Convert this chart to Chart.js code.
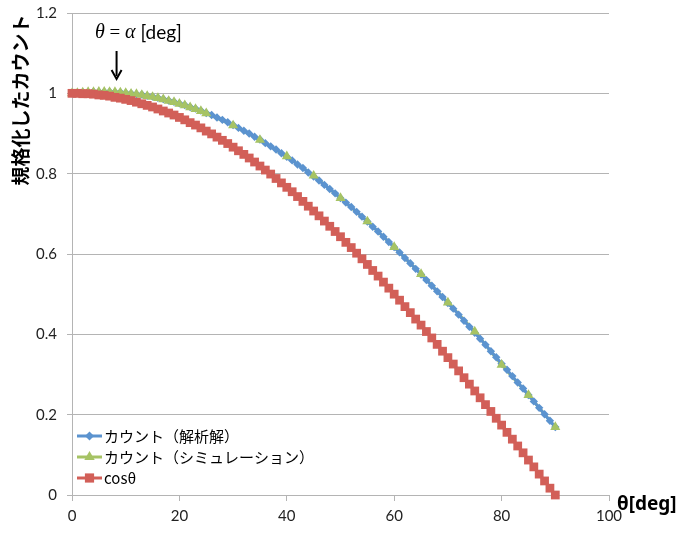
<!DOCTYPE html>
<html>
<head>
<meta charset="utf-8">
<script src="https://cdn.jsdelivr.net/npm/chart.js@4.4.1/dist/chart.umd.min.js"></script>
<style>
  html, body { margin: 0; padding: 0; background: #ffffff; }
  canvas { display: block; }
</style>
</head>
<body>
<canvas id="chart" width="684" height="535"></canvas>
<script>
// Incidence angle in degrees (1-degree steps)
const angles = [
  0, 1, 2, 3, 4, 5, 6, 7, 8, 9, 10, 11, 12, 13, 14, 15, 16, 17, 18, 19,
  20, 21, 22, 23, 24, 25, 26, 27, 28, 29, 30, 31, 32, 33, 34, 35, 36, 37, 38, 39,
  40, 41, 42, 43, 44, 45, 46, 47, 48, 49, 50, 51, 52, 53, 54, 55, 56, 57, 58, 59,
  60, 61, 62, 63, 64, 65, 66, 67, 68, 69, 70, 71, 72, 73, 74, 75, 76, 77, 78, 79,
  80, 81, 82, 83, 84, 85, 86, 87, 88, 89, 90
];

// Normalised count, analytic solution
const analytic = [
  1.000, 1.001, 1.003, 1.003, 1.004, 1.004, 1.004, 1.004, 1.003, 1.003,
  1.001, 1.000, 0.998, 0.997, 0.994, 0.992, 0.989, 0.986, 0.982, 0.979,
  0.975, 0.971, 0.966, 0.962, 0.957, 0.951, 0.946, 0.940, 0.934, 0.928,
  0.921, 0.914, 0.907, 0.900, 0.892, 0.885, 0.876, 0.868, 0.860, 0.851,
  0.842, 0.833, 0.823, 0.814, 0.803, 0.793, 0.783, 0.772, 0.762, 0.751,
  0.739, 0.728, 0.717, 0.705, 0.693, 0.681, 0.668, 0.656, 0.643, 0.630,
  0.617, 0.604, 0.590, 0.577, 0.563, 0.549, 0.535, 0.521, 0.507, 0.493,
  0.478, 0.464, 0.449, 0.434, 0.419, 0.404, 0.389, 0.374, 0.358, 0.343,
  0.327, 0.312, 0.296, 0.280, 0.265, 0.249, 0.233, 0.217, 0.201, 0.185,
  0.169
];

// Simulation: fine steps up to 25 deg, then every 5 deg
const simulationAngles = [
  0, 1, 2, 3, 4, 5, 6, 7, 8, 9, 10, 11, 12, 13, 14, 15, 16, 17, 18, 19,
  20, 21, 22, 23, 24, 25, 30, 35, 40, 45, 50, 55, 60, 65, 70, 75, 80, 85, 90
];
const simulation = [
  1.000, 1.001, 1.002, 1.003, 1.003, 1.004, 1.004, 1.003, 1.003, 1.002,
  1.001, 0.999, 0.998, 0.996, 0.993, 0.991, 0.988, 0.985, 0.981, 0.978,
  0.974, 0.970, 0.965, 0.961, 0.956, 0.950, 0.920, 0.884, 0.843, 0.795,
  0.739, 0.681, 0.617, 0.550, 0.479, 0.407, 0.324, 0.249, 0.169
];

// cos(theta) reference curve
const cosine = [
  1.000, 1.000, 0.999, 0.999, 0.998, 0.996, 0.995, 0.993, 0.990, 0.988,
  0.985, 0.982, 0.978, 0.974, 0.970, 0.966, 0.961, 0.956, 0.951, 0.946,
  0.940, 0.934, 0.927, 0.921, 0.914, 0.906, 0.899, 0.891, 0.883, 0.875,
  0.866, 0.857, 0.848, 0.839, 0.829, 0.819, 0.809, 0.799, 0.788, 0.777,
  0.766, 0.755, 0.743, 0.731, 0.719, 0.707, 0.695, 0.682, 0.669, 0.656,
  0.643, 0.629, 0.616, 0.602, 0.588, 0.574, 0.559, 0.545, 0.530, 0.515,
  0.500, 0.485, 0.469, 0.454, 0.438, 0.423, 0.407, 0.391, 0.375, 0.358,
  0.342, 0.326, 0.309, 0.292, 0.276, 0.259, 0.242, 0.225, 0.208, 0.191,
  0.174, 0.156, 0.139, 0.122, 0.105, 0.087, 0.070, 0.052, 0.035, 0.017,
  0.000
];

const seriesNames = ['カウント（解析解）', 'カウント（シミュレーション）', 'cosθ'];
const yTitle = '規格化したカウント';
const xTitle = 'θ[deg]';
const alphaAngle = 8.3;

const BLUE = '#5b93cf';
const GREEN = '#a6c364';
const RED = '#d25f58';
const GRID = '#b4b4b4';
const TICK_FONT = { family: 'Lato, "Noto Sans", sans-serif', size: 15 };
const JP_FONT = '"Noto Sans CJK JP", "Noto Sans", sans-serif';

function pairs(xs, ys) {
  return xs.map((x, i) => ({ x: x, y: ys[i] }));
}

function drawMarker(ctx, style, x, y, r, color) {
  ctx.save();
  ctx.fillStyle = color;
  ctx.beginPath();
  if (style === 'rectRot') {
    ctx.moveTo(x, y - r); ctx.lineTo(x + r, y); ctx.lineTo(x, y + r); ctx.lineTo(x - r, y);
  } else if (style === 'triangle') {
    ctx.moveTo(x, y - r); ctx.lineTo(x + r * 0.866, y + r * 0.5); ctx.lineTo(x - r * 0.866, y + r * 0.5);
  } else {
    const s = r * Math.SQRT1_2;
    ctx.rect(x - s, y - s, 2 * s, 2 * s);
  }
  ctx.closePath();
  ctx.fill();
  ctx.restore();
}

// Legend, axis titles and the theta = alpha marker
const overlay = {
  id: 'overlay',
  afterDraw(chart) {
    const ctx = chart.ctx;
    const xs = chart.scales.x;

    // legend inside the plot, lower left
    const items = [
      { name: seriesNames[0], color: BLUE, style: 'rectRot', r: 4.5 },
      { name: seriesNames[1], color: GREEN, style: 'triangle', r: 6 },
      { name: seriesNames[2], color: RED, style: 'rect', r: 6.5 }
    ];
    const rowY = [436, 457, 478];
    items.forEach((it, i) => {
      const y = rowY[i];
      ctx.save();
      ctx.strokeStyle = it.color;
      ctx.lineWidth = 3;
      ctx.beginPath();
      ctx.moveTo(77, y);
      ctx.lineTo(102, y);
      ctx.stroke();
      ctx.restore();
      drawMarker(ctx, it.style, 89.5, y, it.r, it.color);
      ctx.save();
      ctx.fillStyle = '#000000';
      ctx.font = '15px ' + JP_FONT;
      ctx.textAlign = 'left';
      ctx.textBaseline = 'middle';
      ctx.fillText(it.name, 104, y);
      ctx.restore();
    });

    // y-axis title
    ctx.save();
    ctx.translate(21, 100);
    ctx.rotate(-Math.PI / 2);
    ctx.fillStyle = '#000000';
    ctx.font = 'bold 19px ' + JP_FONT;
    ctx.textAlign = 'center';
    ctx.textBaseline = 'middle';
    ctx.fillText(yTitle, 0, 0);
    ctx.restore();

    // x-axis title
    ctx.save();
    ctx.fillStyle = '#000000';
    ctx.font = 'bold 19px "Noto Sans", "DejaVu Sans", sans-serif';
    ctx.textAlign = 'left';
    ctx.textBaseline = 'middle';
    ctx.fillText(xTitle, 617, 505);
    ctx.restore();

    // theta = alpha [deg] label with arrow
    const ax = xs.getPixelForValue(alphaAngle);
    ctx.save();
    ctx.fillStyle = '#000000';
    ctx.textBaseline = 'middle';
    ctx.textAlign = 'left';
    let tx = 95;
    const ty = 33;
    const parts = [
      { t: 'θ', f: 'italic 20px "Liberation Serif", "DejaVu Serif", serif' },
      { t: ' = ', f: '19px "Liberation Serif", serif' },
      { t: 'α', f: 'italic 20px "Liberation Serif", "DejaVu Serif", serif' },
      { t: ' [deg]', f: '19px Lato, "Noto Sans", sans-serif' }
    ];
    parts.forEach(p => {
      ctx.font = p.f;
      ctx.fillText(p.t, tx, ty);
      tx += ctx.measureText(p.t).width;
    });
    ctx.strokeStyle = '#000000';
    ctx.lineWidth = 2;
    ctx.beginPath();
    ctx.moveTo(ax, 51);
    ctx.lineTo(ax, 76);
    ctx.stroke();
    ctx.beginPath();
    ctx.moveTo(ax - 5, 70);
    ctx.lineTo(ax, 79);
    ctx.lineTo(ax + 5, 70);
    ctx.stroke();
    ctx.restore();
  }
};

new Chart(document.getElementById('chart'), {
  type: 'line',
  data: {
    datasets: [
      {
        // simulation connecting line, kept beneath the analytic markers
        label: seriesNames[1],
        data: pairs(simulationAngles, simulation),
        borderColor: GREEN,
        borderWidth: 3,
        pointRadius: 0,
        clip: false,
        order: 4
      },
      {
        label: seriesNames[0],
        data: pairs(angles, analytic),
        borderColor: BLUE,
        backgroundColor: BLUE,
        borderWidth: 3,
        pointStyle: 'rectRot',
        pointRadius: 4.2,
        pointBorderWidth: 0,
        clip: false,
        order: 3
      },
      {
        // simulation markers, drawn over the analytic curve
        label: seriesNames[1],
        data: pairs(simulationAngles, simulation),
        showLine: false,
        backgroundColor: GREEN,
        borderColor: GREEN,
        pointStyle: 'triangle',
        pointRadius: 5.8,
        pointBorderWidth: 0,
        clip: false,
        order: 2
      },
      {
        label: seriesNames[2],
        data: pairs(angles, cosine),
        borderColor: RED,
        backgroundColor: RED,
        borderWidth: 3,
        pointStyle: 'rect',
        pointRadius: 6.2,
        pointBorderWidth: 0,
        clip: false,
        order: 1
      }
    ]
  },
  options: {
    responsive: false,
    animation: false,
    layout: { padding: { top: 13, right: 75, left: 0, bottom: 0 } },
    plugins: {
      legend: { display: false },
      tooltip: { enabled: false }
    },
    elements: { line: { tension: 0 } },
    scales: {
      x: {
        type: 'linear',
        min: 0,
        max: 100,
        ticks: { stepSize: 20, color: '#222222', font: TICK_FONT, padding: 6, maxRotation: 0 },
        grid: { drawOnChartArea: false, color: GRID, tickLength: 6 },
        border: { color: GRID, width: 1 },
        afterFit(scale) {
          scale.height = 40;
          scale.paddingLeft = 0;
          scale.paddingRight = 0;
        }
      },
      y: {
        min: 0,
        max: 1.2,
        ticks: {
          stepSize: 0.2,
          color: '#222222',
          font: TICK_FONT,
          padding: 10,
          callback: v => String(+v.toFixed(1))
        },
        grid: { color: GRID, tickLength: 5 },
        border: { color: GRID, width: 1 },
        afterFit(scale) {
          scale.width = 72;
          scale.paddingTop = 0;
          scale.paddingBottom = 0;
        }
      }
    }
  },
  plugins: [overlay]
});
</script>
</body>
</html>
